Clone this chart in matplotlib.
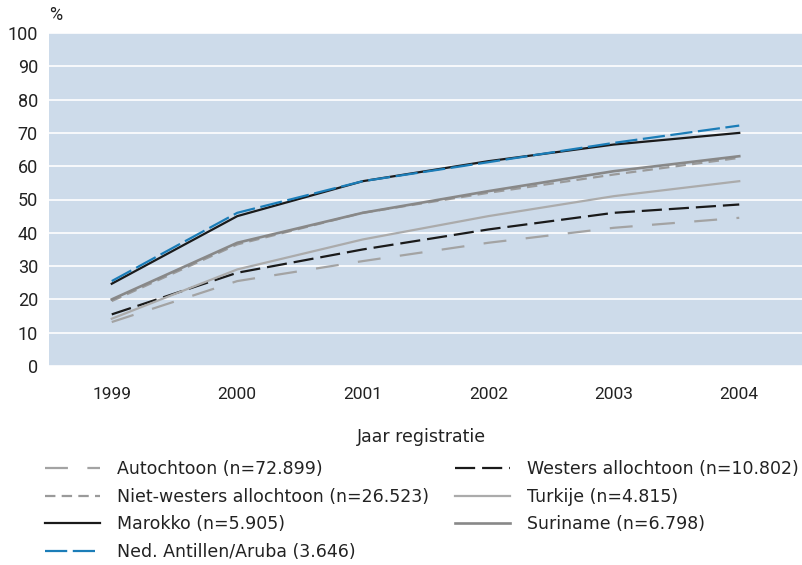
import matplotlib
matplotlib.use("Agg")
import matplotlib.pyplot as plt
from matplotlib import font_manager as fm

years = [1999, 2000, 2001, 2002, 2003, 2004]
autochtoon = [13.2, 25.5, 31.5, 37.0, 41.5, 44.5]
niet_westers = [19.5, 36.5, 46.0, 52.0, 57.5, 62.5]
marokko = [24.7, 45.0, 55.5, 61.5, 66.5, 70.0]
antillen = [25.5, 46.0, 55.5, 61.2, 67.0, 72.2]
westers = [15.5, 28.0, 35.0, 41.0, 46.0, 48.5]
turkije = [14.2, 29.0, 38.0, 45.0, 51.0, 55.5]
suriname = [20.0, 37.0, 46.0, 52.5, 58.5, 63.0]

labels = {
    "aut": "Autochtoon (n=72.899)",
    "nw": "Niet-westers allochtoon (n=26.523)",
    "mar": "Marokko (n=5.905)",
    "ant": "Ned. Antillen/Aruba (3.646)",
    "wes": "Westers allochtoon (n=10.802)",
    "tur": "Turkije (n=4.815)",
    "sur": "Suriname (n=6.798)",
}
yticks = list(range(0, 101, 10))
ytick_labels = [str(v) for v in yticks]
xtick_labels = [str(y) for y in years]

names = {f.name for f in fm.fontManager.ttflist}
tick_font = 'Roboto' if 'Roboto' in names else 'DejaVu Sans'
plt.rcParams['font.family'] = ['DejaVu Sans']
plt.rcParams['lines.scale_dashes'] = False

W, H = 802, 565
fig = plt.figure(figsize=(W / 100, H / 100), dpi=100)
ax = fig.add_axes([49 / W, 199 / H, 1 - 49 / W, 333 / H])
ax.set_facecolor('#cddbea')
for s in ax.spines.values():
    s.set_visible(False)
ax.set_xlim(1998.5, 2004.5)
ax.set_ylim(0, 100)
ax.set_yticks(yticks, labels=ytick_labels, fontfamily=tick_font, fontsize=13)
ax.set_xticks(years, labels=xtick_labels, fontfamily=tick_font, fontsize=12.5)
ax.yaxis.grid(True, color='white', linewidth=1.2)
ax.set_axisbelow(True)
ax.tick_params(length=0, colors='#222222')
ax.tick_params(axis='y', pad=8)
ax.tick_params(axis='x', pad=15)

lw = 1.6
h_aut, = ax.plot(years, autochtoon, color='#a3a3a3', lw=lw, dashes=(16.5, 14.0), label=labels['aut'])
h_nw, = ax.plot(years, niet_westers, color='#9a9a9a', lw=lw, dashes=(7.5, 4.5), label=labels['nw'])
h_wes, = ax.plot(years, westers, color='#1a1a1a', lw=lw, dashes=(14.5, 5.0), label=labels['wes'])
h_tur, = ax.plot(years, turkije, color='#ababab', lw=lw, label=labels['tur'])
h_sur, = ax.plot(years, suriname, color='#888888', lw=lw + 0.3, label=labels['sur'])
h_mar, = ax.plot(years, marokko, color='#1a1a1a', lw=lw, label=labels['mar'])
h_ant, = ax.plot(years, antillen, color='#1b7db8', lw=lw, dashes=(16.0, 4.0), label=labels['ant'])

fig.text(49 / W, 1 - 15 / H, '%', fontsize=13, family=tick_font, color='#222222', va='center', ha='left')
fig.text(421 / W, 1 - 437 / H, 'Jaar registratie', fontsize=12.5, ha='center', va='center', color='#222222')

fs = 12.5
common = dict(loc='upper left', frameon=False, fontsize=fs, handlelength=55 / (fs * 100 / 72),
              handletextpad=17 / (fs * 100 / 72), labelspacing=0.56, borderaxespad=0, borderpad=0)
leg1 = fig.legend(handles=[h_aut, h_nw, h_mar, h_ant], bbox_to_anchor=(45 / W, 1 - 460 / H), **common)
leg2 = fig.legend(handles=[h_wes, h_tur, h_sur], bbox_to_anchor=(455 / W, 1 - 460 / H), **common)
for leg in (leg1, leg2):
    for t in leg.get_texts():
        t.set_color('#222222')

fig.savefig('out.png', dpi=100)
